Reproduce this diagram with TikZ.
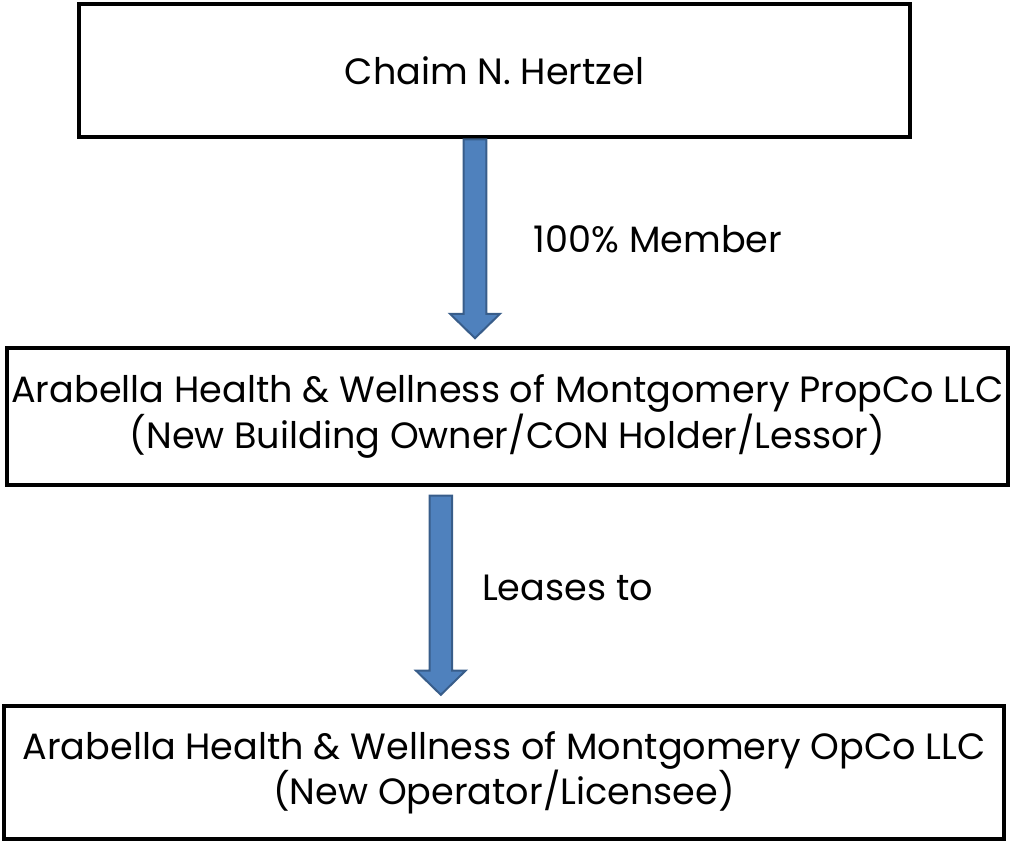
\documentclass[tikz,border=0pt]{standalone}
\usepackage{fontspec}
\setmainfont{Poppins}
\usetikzlibrary{calc}
\usetikzlibrary{positioning}
\definecolor{arrowfill}{RGB}{79, 129, 189}
\definecolor{arrowline}{RGB}{56, 93, 138}
\tikzset{
  box/.style={draw, line width=4pt, inner sep=0, align=center,
    font=\fontsize{36.6}{43}\selectfont},
  tag/.style={inner sep=0, anchor=base, font=\fontsize{36.6}{43}\selectfont},
  bigarrow/.style={draw=arrowline, fill=arrowfill, line width=2pt,
    to path={let \p1=(\tikztostart), \p2=(\tikztotarget) in
      (\x1-11.3pt,\y1) -- (\x1-11.3pt,\y2+24.2pt) -- (\x1-24.8pt,\y2+24.2pt)
      -- (\x1,\y2) -- (\x1+24.8pt,\y2+24.2pt) -- (\x1+11.3pt,\y2+24.2pt)
      -- (\x1+11.3pt,\y1) -- cycle}}
}
\begin{document}
\begin{tikzpicture}[x=1pt,y=-1pt]
    \useasboundingbox (0,0) rectangle (1010,845);

    \node [box, minimum width=831, minimum height=133.5] (hertzel)
          at (494.5,70.75) {Chaim N. Hertzel};
    \node [box, minimum width=1001, minimum height=137] (propco)
          at (507.5,416.5)
          {Arabella Health \& Wellness of Montgomery PropCo LLC\\
           (New Building Owner/CON Holder/Lessor)};
    \node [box, minimum width=1000, minimum height=133] (opco)
          at (504,772.5)
          {Arabella Health \& Wellness of Montgomery OpCo LLC\\
           (New Operator/Licensee)};

    \node [tag] (member) at (658,253) {100\% Member};
    \node [tag] (leases) at (567.5,600) {Leases to};

    \path [bigarrow] ($(hertzel.south)+(-19.5,0)$)
          to ($(propco.north)+(-32.5,-7.8)$);
    \path [bigarrow] ($(propco.south)+(-66.7,8.7)$)
          to ($(opco.north)+(-63.2,-9.2)$);
\end{tikzpicture}
\end{document}
